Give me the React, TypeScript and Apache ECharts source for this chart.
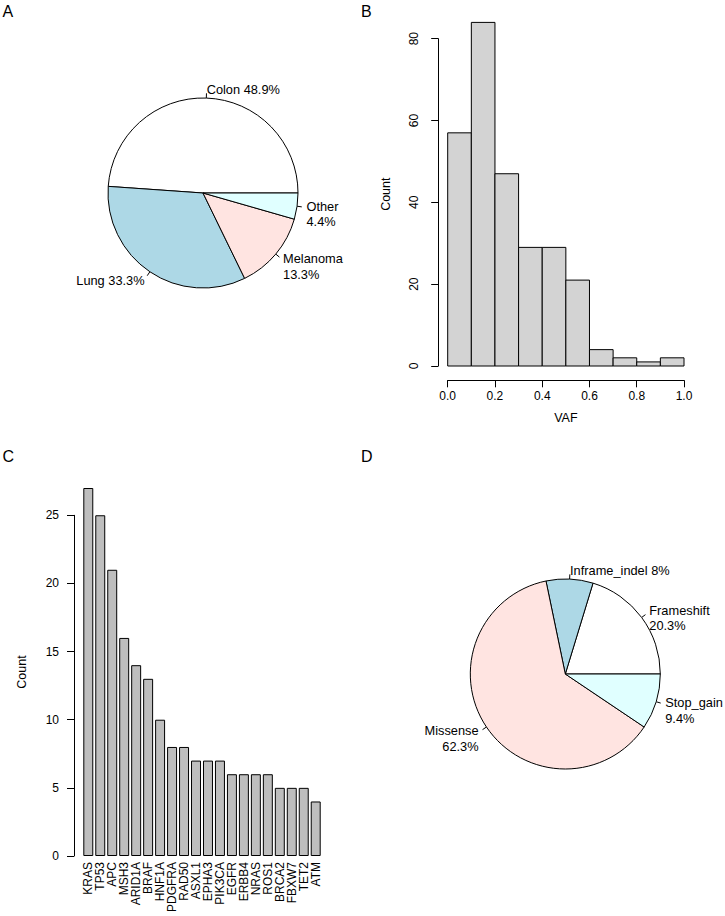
import React, { useEffect, useRef } from 'react';
import * as echarts from 'echarts';

// ---------- Data ----------
const tumorTypes = ['Colon', 'Lung', 'Melanoma', 'Other'];
const tumorCounts = [22, 15, 6, 2];
const tumorLabels = ['Colon 48.9%', 'Lung 33.3%', 'Melanoma\n13.3%', 'Other\n4.4%'];

const vafBreaks = [0, 0.1, 0.2, 0.3, 0.4, 0.5, 0.6, 0.7, 0.8, 0.9, 1.0];
const vafCounts = [57, 84, 47, 29, 29, 21, 4, 2, 1, 2];

const genes = ['KRAS', 'TP53', 'APC', 'MSH3', 'ARID1A', 'BRAF', 'HNF1A', 'PDGFRA', 'RAD50', 'ASXL1',
  'EPHA3', 'PIK3CA', 'EGFR', 'ERBB4', 'NRAS', 'ROS1', 'BRCA2', 'FBXW7', 'TET2', 'ATM'];
const geneCounts = [27, 25, 21, 16, 14, 13, 10, 8, 8, 7, 7, 7, 6, 6, 6, 6, 5, 5, 5, 4];

const mutTypes = ['Frameshift', 'Inframe_indel', 'Missense', 'Stop_gain'];
const mutCounts = [28, 11, 86, 13];
const mutLabels = ['Frameshift\n20.3%', 'Inframe_indel 8%', 'Missense\n62.3%', 'Stop_gain\n9.4%'];

const pieColors = ['#FFFFFF', '#ADD8E6', '#FFE4E1', '#E0FFFF'];

const FONT = 'Liberation Sans, Arial, Helvetica, sans-serif';
const PIE_FONT = 12.8;
const LH = 15.5;

function pieSeries(names: string[], counts: number[], labels: string[], center: number[], radius: number) {
  const total = counts.reduce((a, b) => a + b, 0);
  const tick = radius * 0.05;
  let cum = 0;
  const data = names.map((n, i) => {
    const mid = ((cum + counts[i] / 2) / total) * 2 * Math.PI;
    cum += counts[i];
    const c = Math.cos(mid);
    const s = Math.sin(mid);
    const lines = labels[i].split('\n');
    const bias = lines.length > 1 ? -1.5 : 0.5;
    const dyWanted = -tick * s + bias;
    const diff = 2 * dyWanted + (lines.length - 1) * LH;
    let text = lines.map((l) => `{a|${l}}`).join('\n');
    if (diff > 0.5) text = `{t|\u00a0}\n` + text;
    if (diff < -0.5) text = text + `\n{b|\u00a0}`;
    const dx = tick * Math.abs(c);
    return {
      name: n,
      value: counts[i],
      itemStyle: { color: pieColors[i] },
      label: {
        formatter: text,
        padding: [0, c < 0 ? dx : 0, 0, c >= 0 ? dx : 0],
        rich: {
          a: { fontSize: PIE_FONT, lineHeight: LH, fontFamily: FONT, color: '#000' },
          t: { fontSize: 1, lineHeight: Math.max(1, diff), fontFamily: FONT },
          b: { fontSize: 1, lineHeight: Math.max(1, -diff), fontFamily: FONT },
        },
      },
    };
  });
  return {
    type: 'pie',
    left: 0,
    top: 0,
    width: 1500,
    height: 1500,
    center,
    radius,
    startAngle: 0,
    clockwise: false,
    avoidLabelOverlap: false,
    silent: true,
    emphasis: { disabled: true },
    itemStyle: { borderColor: '#000', borderWidth: 1 },
    label: {
      show: true,
      position: 'outside',
      alignTo: 'none',
      bleedMargin: 0,
      fontSize: PIE_FONT,
      fontFamily: FONT,
      color: '#000',
      lineHeight: LH,
      distanceToLabelLine: 0,
    },
    labelLine: { show: true, length: tick, length2: 0, smooth: false, lineStyle: { color: '#000', width: 1 } },
    data,
  };
}

const axisLineStyle = { show: true, lineStyle: { color: '#000', width: 1 } };
const tickStyle = { show: true, inside: false, length: 7, lineStyle: { color: '#000', width: 1 } };
const noLine = { show: false };

export default function App() {
  const ref = useRef<HTMLDivElement>(null);
  useEffect(() => {
    if (!ref.current) return;
    const chart = echarts.init(ref.current, null, { renderer: 'svg' });
    const option: any = {
      animation: false,
      backgroundColor: '#fff',
      textStyle: { fontFamily: FONT, color: '#000' },
      grid: [
        { left: 447.7, top: 22.4, width: 236.3, height: 343.6, containLabel: false, outerBoundsMode: 'none' },
        { left: 438.2, top: 38.7, width: 236.3, height: 327.3, containLabel: false, outerBoundsMode: 'none' },
        { left: 447.7, top: 370, width: 236.3, height: 10.3, containLabel: false, outerBoundsMode: 'none' },
        { left: 82.3, top: 488, width: 239.4, height: 368, containLabel: false, outerBoundsMode: 'none' },
        { left: 74, top: 515.3, width: 239.4, height: 340.7, containLabel: false, outerBoundsMode: 'none' },
      ],
      xAxis: [
        { gridIndex: 0, type: 'value', min: 0, max: 1, show: false },
        { gridIndex: 1, type: 'value', min: 0, max: 1, show: false },
        {
          gridIndex: 2, type: 'value', min: 0, max: 1, interval: 0.2, position: 'bottom',
          axisLine: axisLineStyle, axisTick: tickStyle, splitLine: noLine,
          axisLabel: { margin: 10, fontSize: 12, color: '#000', formatter: (v: number) => v.toFixed(1) },
          name: 'VAF', nameLocation: 'middle', nameGap: 31, nameTextStyle: { fontSize: 12.5, color: '#000' },
        },
        {
          gridIndex: 3, type: 'category', data: genes, boundaryGap: true,
          axisLine: noLine, axisTick: noLine, splitLine: noLine,
          axisLabel: { rotate: 90, margin: 6, interval: 0, fontSize: 12, color: '#000' },
        },
        { gridIndex: 4, type: 'value', min: 0, max: 1, show: false },
      ],
      yAxis: [
        {
          gridIndex: 0, type: 'value', min: 0, max: 84,
          axisLine: noLine, axisTick: noLine, axisLabel: noLine, splitLine: noLine,
          name: 'Count', nameLocation: 'middle', nameGap: 55.7, nameRotate: 90,
          nameTextStyle: { fontSize: 12.5, color: '#000' },
        },
        {
          gridIndex: 1, type: 'value', min: 0, max: 80, interval: 20, position: 'left',
          axisLine: axisLineStyle, axisTick: tickStyle, splitLine: noLine,
          axisLabel: { rotate: 90, margin: 18, fontSize: 12, color: '#000' },
        },
        { gridIndex: 2, type: 'value', min: 0, max: 1, show: false },
        {
          gridIndex: 3, type: 'value', min: 0, max: 27,
          axisLine: noLine, axisTick: noLine, axisLabel: noLine, splitLine: noLine,
          name: 'Count', nameLocation: 'middle', nameGap: 54, nameRotate: 90,
          nameTextStyle: { fontSize: 12.5, color: '#000' },
        },
        {
          gridIndex: 4, type: 'value', min: 0, max: 25, interval: 5, position: 'left',
          axisLine: axisLineStyle, axisTick: tickStyle, splitLine: noLine,
          axisLabel: { margin: 15, fontSize: 12, color: '#000' },
        },
      ],
      series: [
        pieSeries(tumorTypes, tumorCounts, tumorLabels, [203, 193], 95),
        {
          type: 'custom',
          xAxisIndex: 0,
          yAxisIndex: 0,
          silent: true,
          data: vafCounts.map((c, i) => [vafBreaks[i], vafBreaks[i + 1], c]),
          encode: { x: [0, 1], y: 2 },
          renderItem: (_p: any, api: any) => {
            const p0 = api.coord([api.value(0), api.value(2)]);
            const p1 = api.coord([api.value(1), 0]);
            return {
              type: 'rect',
              shape: { x: p0[0], y: p0[1], width: p1[0] - p0[0], height: p1[1] - p0[1] },
              style: { fill: '#D3D3D3', stroke: '#000', lineWidth: 1 },
            };
          },
        },
        {
          type: 'bar',
          xAxisIndex: 3,
          yAxisIndex: 3,
          silent: true,
          data: geneCounts,
          barCategoryGap: '16.667%',
          itemStyle: { color: '#BEBEBE', borderColor: '#000', borderWidth: 1 },
        },
        pieSeries(mutTypes, mutCounts, mutLabels, [565.3, 674], 95),
      ],
      graphic: [
        { type: 'text', x: 2.5, y: 11, style: { text: 'A', fontSize: 16, fontFamily: FONT, fill: '#000', verticalAlign: 'middle' } },
        { type: 'text', x: 361, y: 11, style: { text: 'B', fontSize: 16, fontFamily: FONT, fill: '#000', verticalAlign: 'middle' } },
        { type: 'text', x: 2.5, y: 456, style: { text: 'C', fontSize: 16, fontFamily: FONT, fill: '#000', verticalAlign: 'middle' } },
        { type: 'text', x: 361, y: 456, style: { text: 'D', fontSize: 16, fontFamily: FONT, fill: '#000', verticalAlign: 'middle' } },
      ],
    };
    chart.setOption(option);
    return () => chart.dispose();
  }, []);
  return <div ref={ref} style={{ position: 'fixed', left: 0, top: 0, width: 725, height: 916 }} />;
}
